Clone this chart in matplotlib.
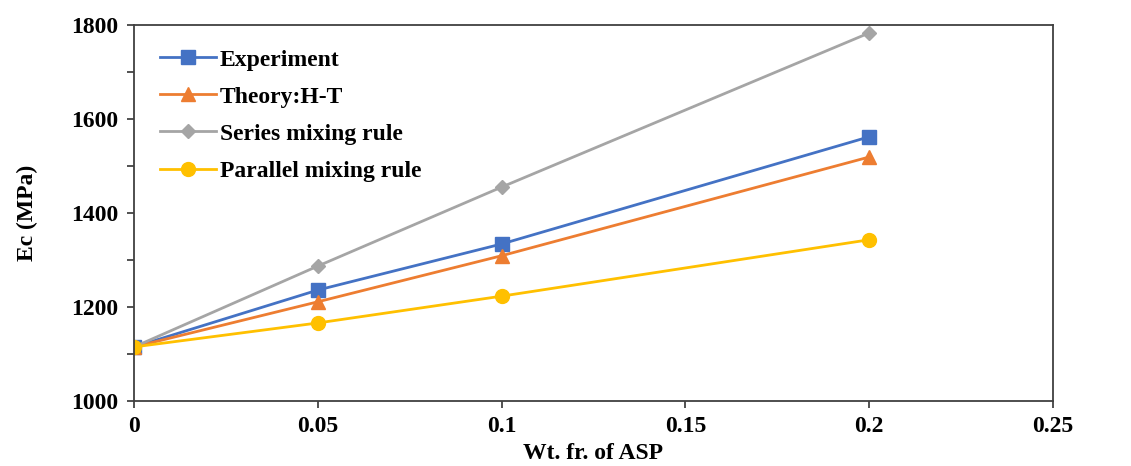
import numpy as np
import matplotlib.pyplot as plt
from matplotlib.ticker import MultipleLocator

# data
wt_frac = [0, 0.05, 0.1, 0.2]
experiment = [1115, 1236, 1334, 1562]
theory_ht = [1115, 1211, 1309, 1519]
series_rule = [1115, 1287, 1455, 1783]
parallel_rule = [1115, 1166, 1223, 1343]

plt.rcParams['font.family'] = ['Liberation Serif', 'DejaVu Serif']
plt.rcParams['font.weight'] = 'bold'

fig = plt.figure(figsize=(11.31, 4.66), dpi=100)
ax = fig.add_axes([0.1185, 0.1395, 0.8125, 0.807])

ax.plot(wt_frac, experiment, color='#4472C4', lw=2, marker='s', ms=10, label='Experiment')
ax.plot(wt_frac, theory_ht, color='#ED7D31', lw=2, marker='^', ms=10, label='Theory:H-T')
ax.plot(wt_frac, series_rule, color='#A5A5A5', lw=2, marker='D', ms=7, label='Series mixing rule')
ax.plot(wt_frac, parallel_rule, color='#FFC000', lw=2, marker='o', ms=10, label='Parallel mixing rule')

ax.set_xlim(0, 0.25)
ax.set_ylim(1000, 1800)
ax.yaxis.set_major_locator(MultipleLocator(200))
ax.yaxis.set_minor_locator(MultipleLocator(100))
ax.set_xticks([0, 0.05, 0.1, 0.15, 0.2, 0.25])
ax.set_xticklabels(['0', '0.05', '0.1', '0.15', '0.2', '0.25'])
ax.tick_params(axis='both', which='both', direction='out', length=5, width=1.2,
               colors='#333333', labelcolor='black', labelsize=17, pad=6)
for sp in ax.spines.values():
    sp.set_color('#404040')
    sp.set_linewidth(1.3)

ax.set_xlabel('Wt. fr. of ASP', fontsize=17, fontweight='bold', labelpad=4)
ax.set_ylabel('Ec (MPa)', fontsize=17, fontweight='bold', labelpad=24)

leg = ax.legend(loc='upper left', frameon=False, fontsize=17, handlelength=2.4,
                handletextpad=0.15, labelspacing=0.66, borderaxespad=0.3,
                bbox_to_anchor=(0.01, 0.98))

fig.savefig('out.png', dpi=100)
